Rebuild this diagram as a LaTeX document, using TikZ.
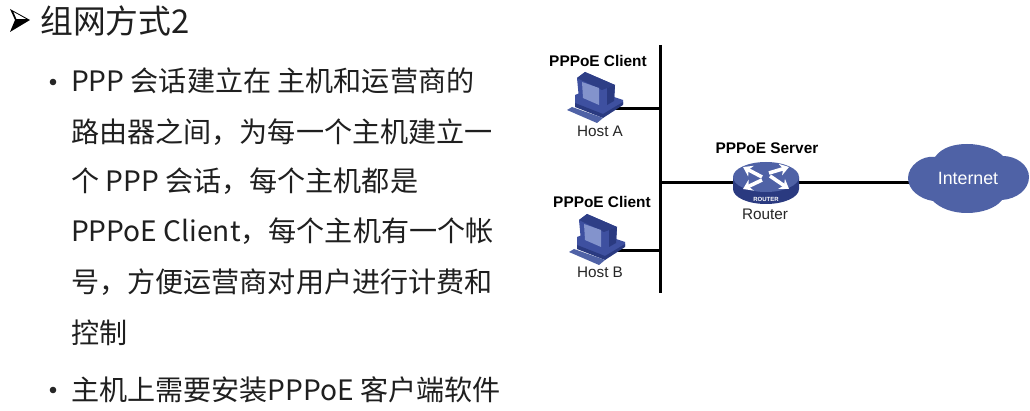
\documentclass[tikz,border=0pt]{standalone}
\usetikzlibrary{arrows.meta}
\usepackage{fontspec}
\setmainfont{Noto Sans CJK SC}
\newfontfamily\labelfont{Liberation Sans}
\definecolor{netblue}{HTML}{4F62A6}
\definecolor{netdark}{HTML}{2A3A80}
\definecolor{netmid}{HTML}{3E50A0}
\definecolor{netlight}{HTML}{8393CC}
\tikzset{
 x=1pt,y=-1pt,
 bodytext/.style={anchor=west,inner sep=0pt,font=\fontsize{28.1}{28}\selectfont,text=black!88},
 roletext/.style={inner sep=0pt,font=\labelfont\bfseries\fontsize{15.4}{15}\selectfont},
 devtext/.style={inner sep=0pt,font=\labelfont\fontsize{15.3}{15}\selectfont,text=black!85},
 wire/.style={line width=3pt,black},
 routerarrow/.style={white,line width=3.6pt,-{Stealth[length=9pt,width=12pt]}},
 hostpic/.pic={
  % base
  \fill[netmid] (-20,-14)--(-5,-20)--(28,-9)--(28,-5)--(8,7)--(-20,-5)--cycle;
  \fill[netdark] (-20,-6)--(8,5)--(8,9)--(-20,-2)--cycle;
  \fill[netdark] (8,5)--(28,-7)--(28,-4)--(8,9)--cycle;
  % keyboard
  \fill[netblue] (-23,-2)--(-28,1)--(2,14)--(8,9)--cycle;
  % monitor
  \fill[netmid] (-18,-31)--(-10,-37)--(20,-24)--(19,-8)--(7,-1)--(-16,-10)--cycle;
  \fill[netdark!80!netmid] (-18,-31)--(-10,-37)--(20,-24)--(7,-19)--cycle;
  \fill[netdark] (12,-21)--(20,-24)--(19,-8)--(12,-4)--cycle;
  \fill[netlight] (-13,-27)--(4,-21)--(4,-4)--(-12,-11)--cycle;
 }
}
\begin{document}
\begin{tikzpicture}
\useasboundingbox (0,0) rectangle (1030,411);
\fill[white] (0,0) rectangle (1030,411);
% title marker
\fill[black] (10,9)--(30,20)--(10,32)--(15,20)--cycle;
\fill[white] (13.5,12)--(26,19)--(16.5,19)--cycle;
\node[bodytext,font=\fontsize{32.8}{33}\selectfont] (title) at (40,21) {组网方式2};
\fill[black!85] (53,82) circle (3.3pt);
\fill[black!85] (53,390) circle (3.3pt);
\node[bodytext] (l1) at (71,81) {PPP 会话建立在 主机和运营商的};
\node[bodytext] (l2) at (71,132) {路由器之间，为每一个主机建立一};
\node[bodytext] (l3) at (71,181) {个 PPP 会话，每个主机都是};
\node[bodytext] (l4) at (71,231) {PPPoE Client，每个主机有一个帐};
\node[bodytext] (l5) at (71,282) {号，方便运营商对用户进行计费和};
\node[bodytext] (l6) at (71,333) {控制};
\node[bodytext] (l7) at (71,390) {主机上需要安装PPPoE 客户端软件};
% network
\coordinate (busT) at (660,45);
\coordinate (busB) at (660,293);
\coordinate (tapA) at (660,109);
\coordinate (tapB) at (660,251);
\coordinate (tapR) at (660,183);
\coordinate (hostA) at (595,109);
\coordinate (hostB) at (597,251);
\coordinate (routerC) at (766,183);
\coordinate (cloudL) at (910,183);
\coordinate (cloudC) at (968,178);
\draw[wire] (busT)--(busB);
\draw[wire] (hostA)--(tapA);
\draw[wire] (hostB)--(tapB);
\draw[wire] (tapR)--(routerC);
\draw[wire] (routerC)--(cloudL);
\pic at (hostA) {hostpic};
\pic at (hostB) {hostpic};
\node[roletext] (clientA) at (598,61) {PPPoE Client};
\node[devtext] (nameA) at (600,131) {Host A};
\node[roletext] (clientB) at (602,202) {PPPoE Client};
\node[devtext] (nameB) at (600,272) {Host B};
% router
\begin{scope}[shift={(routerC)}]
\fill[netdark] (-33,-6) -- (-33,6) arc[start angle=180,end angle=360,x radius=33pt,y radius=15pt] -- (33,-6) -- cycle;
\fill[netblue] (0,-6) ellipse[x radius=33pt,y radius=15pt];
\draw[routerarrow] (-4,-6)--(-23,-16);
\draw[routerarrow] (3,-10)--(23,-16);
\draw[routerarrow] (-4,-3)--(-23,6);
\draw[routerarrow] (4,-7)--(23,6);
\end{scope}
\node[inner sep=0pt,text=white,font=\labelfont\bfseries\fontsize{6}{6}\selectfont] (rlabel) at (766,199) {ROUTER};
\node[roletext] (server) at (767,148) {PPPoE Server};
\node[devtext] (rname) at (765,214) {Router};
% cloud
\fill[netblue] (908,178)
 .. controls (908,166) and (922,155) .. (935,157)
 .. controls (942,147) and (955,144) .. (967,144)
 .. controls (982,144) and (996,149) .. (1003,156)
 .. controls (1016,156) and (1029,165) .. (1029,177)
 .. controls (1029,190) and (1016,199) .. (1002,200)
 .. controls (996,208) and (982,213) .. (967,213)
 .. controls (952,213) and (940,208) .. (933,201)
 .. controls (920,199) and (908,190) .. (908,178) -- cycle;
\node[inner sep=0pt,text=white,font=\labelfont\fontsize{17.8}{18}\selectfont] (internet) at (cloudC) {Internet};
\end{tikzpicture}
\end{document}
